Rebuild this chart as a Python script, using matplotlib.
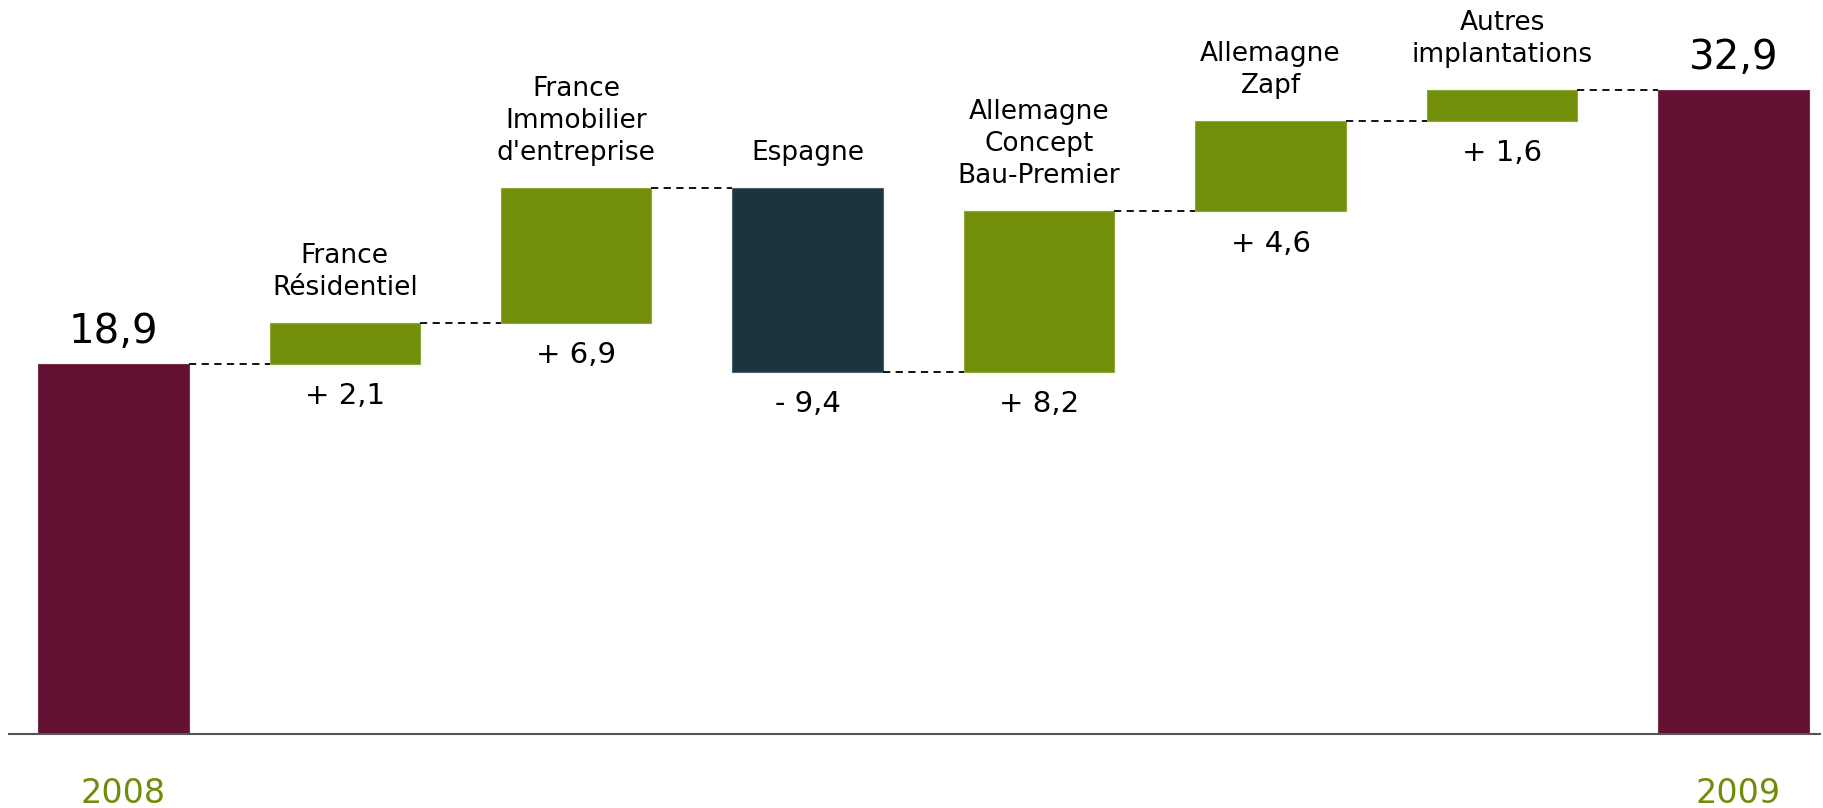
import matplotlib
matplotlib.use("Agg")
import matplotlib.pyplot as plt
import numpy as np

plt.rcParams["font.family"] = ["DejaVu Sans"]

# data
start_label = "2008"
end_label = "2009"
start_value = 18.9
end_value = 32.9
steps = [
    "France\nRésidentiel",
    "France\nImmobilier\nd'entreprise",
    "Espagne",
    "Allemagne\nConcept\nBau-Premier",
    "Allemagne\nZapf",
    "Autres\nimplantations",
]
deltas = [2.1, 6.9, -9.4, 8.2, 4.6, 1.6]
delta_labels = ["+ 2,1", "+ 6,9", "- 9,4", "+ 8,2", "+ 4,6", "+ 1,6"]
total_labels = ["18,9", "32,9"]

TOTAL = "#621132"
UP = "#718F0A"
DOWN = "#1A3440"
YEAR = "#6E8E0A"

fig = plt.figure(figsize=(18.24, 8.08), dpi=100)
ax = fig.add_axes([9 / 1824, 74 / 808, (1820 - 9) / 1824, 734 / 808])

width = 0.65
n = len(deltas) + 2
x = np.arange(n)

# totals
ax.bar(x[0], start_value, width=width, color=TOTAL, edgecolor="#7a3050", linewidth=0.8)
ax.bar(x[-1], end_value, width=width, color=TOTAL, edgecolor="#7a3050", linewidth=0.8)

levels = [start_value]
for i, d in enumerate(deltas):
    prev = levels[-1]
    cur = prev + d
    levels.append(cur)
    col = UP if d > 0 else DOWN
    edge = "#8fa83a" if d > 0 else "#4a6070"
    ax.bar(x[i + 1], d, bottom=prev, width=width, color=col, edgecolor=edge, linewidth=0.8)
    top = max(prev, cur)
    low = min(prev, cur)
    ax.annotate(steps[i], (x[i + 1], top), xytext=(0, 20), textcoords="offset points",
                ha="center", va="baseline", fontsize=19, linespacing=1.3)
    ax.annotate(delta_labels[i], (x[i + 1], low), xytext=(0, -29), textcoords="offset points",
                ha="center", va="baseline", fontsize=21)

# dashed connectors
for i in range(n - 1):
    ax.plot([x[i] + width / 2, x[i + 1] - width / 2], [levels[i], levels[i]],
            ls=(0, (4, 3)), color="black", lw=1.3)

for xi, v, lab in zip([x[0], x[-1]], [start_value, end_value], total_labels):
    ax.annotate(lab, (xi, v), xytext=(0, 15), textcoords="offset points",
                ha="center", va="baseline", fontsize=29)

# year labels sit a little right of the bar centres in the original
for xi, dx, lab in zip([x[0], x[-1]], [7, 3], [start_label, end_label]):
    ax.annotate(lab, (xi, 0), xytext=(dx, -50), textcoords="offset points",
                ha="center", va="baseline", fontsize=24, color=YEAR)

ax.axhline(0, color="#555555", lw=1.5, clip_on=False, zorder=5)
ax.set_xlim(-0.451, 7.374)
ax.set_ylim(0, 37.49)
ax.axis("off")

fig.savefig("out.png", dpi=100)
